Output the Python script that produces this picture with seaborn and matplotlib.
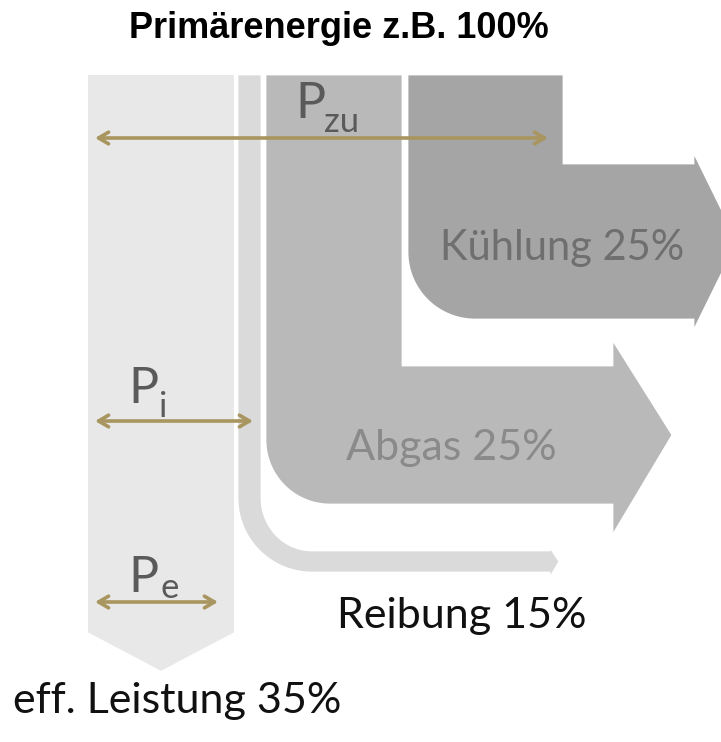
import numpy as np
import matplotlib
matplotlib.use("Agg")
import matplotlib.pyplot as plt
from matplotlib.patches import Polygon
import seaborn as sns

# Daten
stroeme = ["eff. Leistung", "Reibung", "Abgas", "Kühlung"]
anteile = [35, 15, 25, 25]
titel = "Primärenergie z.B. 100%"
leistungen = ["zu", "i", "e"]

# Farben
farben = ["#e8e8e8", "#dadada", "#b9b9b9", "#a5a5a5"]
textfarben = ["#111111", "#111111", "#8a8a8a", "#6f6f6f"]
pfeilfarbe = "#a8955f"

# Layout (Bildkoordinaten, y nach unten)
oben = 74
spalte_l = [87, 237, 265, 407]
spalte_r = [235, 262, 403, 564]
band_oben = [None, 550, 365, 163]
band_unten = [None, 573, 505, 320]
radius = [None, 75, 65, 68]
kopf_x = [None, 549, 612, 693]
kopf_oben = [None, 545, 338, 150]
kopf_unten = [None, 580, 537, 333]
spitze_x = [None, 560, 673, 738]

sns.set_theme(style="white")
plt.rcParams['font.family'] = ['Lato', 'DejaVu Sans']


def bogen(cx, cy, rx, ry, a0, a1, n=40):
    t = np.radians(np.linspace(a0, a1, n))
    return list(zip(cx + rx * np.cos(t), cy + ry * np.sin(t)))


def knick_pfeil(i, innen_rund):
    x0, x1 = spalte_l[i], spalte_r[i]
    yt, yb = band_oben[i], band_unten[i]
    R = radius[i]
    cx, cy = x0 + R, yb - R
    pts = [(x0, oben), (x1, oben)]
    if innen_rund:
        pts += bogen(cx, cy, R - (x1 - x0), R - (yb - yt), 180, 90)
    else:
        pts += [(x1, yt)]
    ym = (yt + yb) / 2
    pts += [(kopf_x[i], yt), (kopf_x[i], kopf_oben[i]), (spitze_x[i], ym),
            (kopf_x[i], kopf_unten[i]), (kopf_x[i], yb)]
    pts += bogen(cx, cy, R, R, 90, 180)
    return pts


fig = plt.figure(figsize=(7.21, 7.42), dpi=100)
ax = fig.add_axes([0, 0, 1, 1])
ax.set_xlim(0, 721)
ax.set_ylim(742, 0)
ax.axis("off")

# effektive Leistung (nach unten)
xm = (spalte_l[0] + spalte_r[0]) / 2
eff = [(spalte_l[0], oben), (spalte_r[0], oben), (spalte_r[0], 633),
       (xm, 672), (spalte_l[0], 633)]
ax.add_patch(Polygon(eff, closed=True, fc=farben[0], ec="white", lw=1.5))

for i in [1, 2, 3]:
    ax.add_patch(Polygon(knick_pfeil(i, i == 1), closed=True,
                         fc=farben[i], ec="white", lw=2))

# Beschriftungen
ax.text(13, 713, f"{stroeme[0]} {anteile[0]}%", fontsize=31,
        color=textfarben[0], ha="left", va="baseline")
ax.text(337, 628, f"{stroeme[1]} {anteile[1]}%", fontsize=31,
        color=textfarben[1], ha="left", va="baseline")
ax.text(346, 460, f"{stroeme[2]} {anteile[2]}%", fontsize=31,
        color=textfarben[2], ha="left", va="baseline")
ax.text(440, 260, f"{stroeme[3]} {anteile[3]}%", fontsize=30,
        color=textfarben[3], ha="left", va="baseline")

ax.text(339, 38, titel, fontsize=26, fontweight="bold", ha="center",
        va="baseline", color="black", family=["Liberation Sans", "DejaVu Sans"])

# Leistungspfeile P_zu, P_i, P_e
pfeil_y = [138, 421, 602]
pfeil_x = [(95, 548), (95, 253), (95, 218)]
p_pos = [(295, 118), (128, 403), (128, 592)]
sub_pos = [(324, 132), (159, 417), (160, 598)]
for k in range(3):
    ax.annotate("", xy=(pfeil_x[k][1], pfeil_y[k]),
                xytext=(pfeil_x[k][0], pfeil_y[k]),
                arrowprops=dict(arrowstyle="<->,head_length=0.6,head_width=0.35",
                                color=pfeilfarbe, lw=2.6, shrinkA=0, shrinkB=0))
    ax.text(p_pos[k][0], p_pos[k][1], "P", fontsize=36, color="#5a5a5a",
            va="baseline", ha="left")
    ax.text(sub_pos[k][0], sub_pos[k][1], leistungen[k], fontsize=25,
            color="#5a5a5a", va="baseline", ha="left")

fig.savefig("out.png", dpi=100)
